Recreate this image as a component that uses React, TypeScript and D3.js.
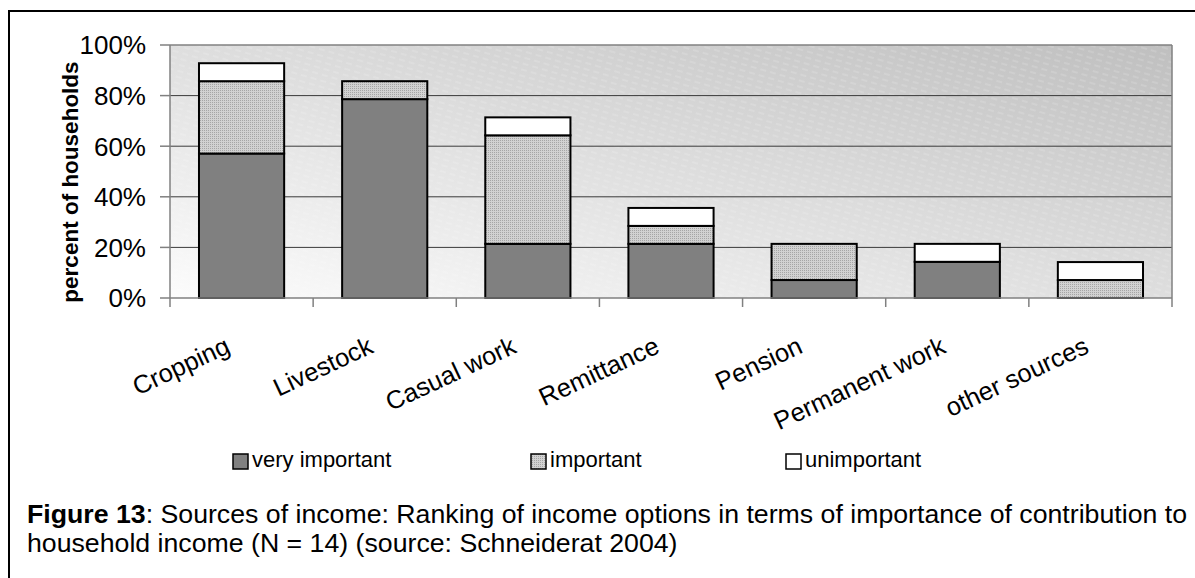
import React from "react";
import * as d3 from "d3";

const categories = ["Cropping", "Livestock", "Casual work", "Remittance", "Pension", "Permanent work", "other sources"];
const veryImportant = [57.1, 78.6, 21.4, 21.4, 7.1, 14.3, 0];
const important = [28.6, 7.1, 42.9, 7.1, 14.3, 0, 7.1];
const unimportant = [7.1, 0, 7.1, 7.1, 0, 7.1, 7.1];
const yTicks = [0, 20, 40, 60, 80, 100];
const seriesNames = ["very important", "important", "unimportant"];

const FONT = "'Liberation Sans', Arial, sans-serif";

export default function App() {
  const W = 1195, H = 578;
  const left = 170, right = 1172, top = 45, bottom = 298;
  const x = d3.scaleBand<string>().domain(categories).range([left, right]).paddingInner(0.405).paddingOuter(0.2025);
  const y = d3.scaleLinear().domain([0, 100]).range([bottom, top]);
  const fills = ["#808080", "url(#dots)", "#ffffff"];
  const series = [veryImportant, important, unimportant];

  const table = categories.map((c, i) => ({ cat: c, v0: veryImportant[i], v1: important[i], v2: unimportant[i] }));
  const stack = d3.stack<any>().keys(["v0", "v1", "v2"])(table);

  const step = x.step();
  const boundaries = d3.range(categories.length + 1).map((i) => left + i * step);

  const legendX = [233, 531, 786];

  return (
    <svg width={W} height={H} style={{ position: "absolute", left: 0, top: 0, display: "block" }} fontFamily={FONT}>
      <defs>
        <linearGradient id="bg" x1="0" y1="1" x2="1" y2="0">
          <stop offset="0" stopColor="#fcfcfc" />
          <stop offset="0.5" stopColor="#dedede" />
          <stop offset="1" stopColor="#bfbfbf" />
        </linearGradient>
        <pattern id="stripes" width="10" height="6" patternUnits="userSpaceOnUse" patternTransform="rotate(16)">
          <line x1="0" y1="1" x2="6" y2="1" stroke="#ffffff" strokeOpacity="0.35" strokeWidth="0.8" />
        </pattern>
        <pattern id="dots" width="2" height="2" patternUnits="userSpaceOnUse">
          <rect width="2" height="2" fill="#d2d2d2" />
          <rect width="1" height="1" fill="#a6a6a6" />
        </pattern>
      </defs>

      {/* outer frame */}
      <line x1={9} y1={11} x2={W} y2={11} stroke="#000" strokeWidth={2} />
      <line x1={9} y1={10} x2={9} y2={H} stroke="#000" strokeWidth={2} />

      {/* plot background */}
      <rect x={left} y={top} width={right - left} height={bottom - top} fill="url(#bg)" />
      <rect x={left} y={top} width={right - left} height={bottom - top} fill="url(#stripes)" />

      {/* gridlines */}
      {yTicks.filter((t) => t > 0 && t < 100).map((t) => (
        <line key={t} x1={left} x2={right} y1={y(t)} y2={y(t)} stroke="#3a3a3a" strokeWidth={1} />
      ))}
      {/* plot border */}
      <line x1={left} x2={right} y1={y(100)} y2={y(100)} stroke="#808080" strokeWidth={1.5} />
      <line x1={right} x2={right} y1={top} y2={bottom} stroke="#808080" strokeWidth={1.5} />

      {/* bars */}
      {stack.map((s, si) =>
        s.map((d, i) => {
          const v = series[si][i];
          if (v <= 0) return null;
          return (
            <rect
              key={si + "-" + i}
              x={x(categories[i])}
              width={x.bandwidth()}
              y={y(d[1])}
              height={y(d[0]) - y(d[1])}
              fill={fills[si]}
              stroke="#000"
              strokeWidth={2}
            />
          );
        })
      )}

      {/* axes */}
      <line x1={left} x2={left} y1={top} y2={bottom} stroke="#808080" strokeWidth={1.5} />
      <line x1={left} x2={right} y1={bottom} y2={bottom} stroke="#808080" strokeWidth={1.5} />
      {yTicks.map((t) => (
        <g key={t}>
          <line x1={left - 10} x2={left} y1={y(t)} y2={y(t)} stroke="#808080" strokeWidth={1.5} />
          <text x={146} y={y(t)} dy="0.36em" textAnchor="end" fontSize={26} fill="#000">
            {t + "%"}
          </text>
        </g>
      ))}
      {boundaries.map((bx, i) => (
        <line key={i} x1={bx} x2={bx} y1={bottom} y2={bottom + 9} stroke="#808080" strokeWidth={1.5} />
      ))}
      {categories.map((c) => {
        const cx = (x(c) as number) + x.bandwidth() / 2 - 10;
        return (
          <text key={c} transform={`translate(${cx},352) rotate(-25)`} textAnchor="end" fontSize={25.5} fill="#000">
            {c}
          </text>
        );
      })}

      {/* y title */}
      <text transform="translate(78,182) rotate(-90)" textAnchor="middle" fontSize={22.5} fontWeight="bold" fill="#000">
        percent of households
      </text>

      {/* legend */}
      {seriesNames.map((n, i) => (
        <g key={n}>
          <rect x={legendX[i]} y={454} width={15} height={15} fill={fills[i]} stroke="#000" strokeWidth={1.5} />
          <text x={legendX[i] + 19} y={467} fontSize={22} fill="#000">
            {n}
          </text>
        </g>
      ))}

      {/* caption */}
      <text x={27} y={523} fontSize={26.7} fill="#000">
        <tspan fontWeight="bold">Figure 13</tspan>
        <tspan>: Sources of income: Ranking of income options in terms of importance of contribution to</tspan>
      </text>
      <text x={27} y={552} fontSize={26.7} fill="#000">
        household income (N = 14) (source: Schneiderat 2004)
      </text>
    </svg>
  );
}
